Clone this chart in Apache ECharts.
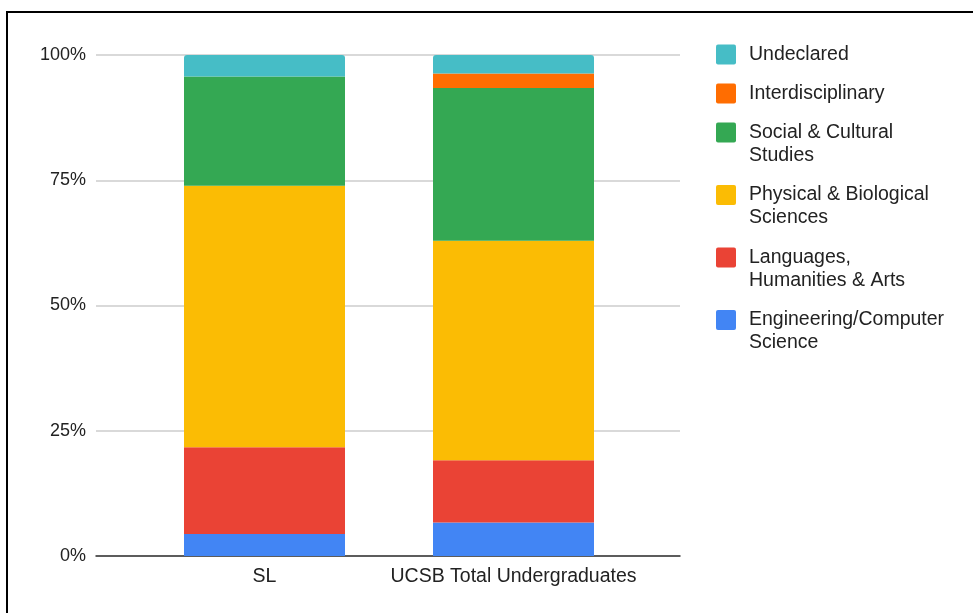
<!DOCTYPE html>
<html>
<head>
<meta charset="utf-8">
<script src="https://cdn.jsdelivr.net/npm/echarts@6/dist/echarts.min.js"></script>
<style>
  html, body { margin: 0; padding: 0; background: #fff; overflow: hidden; }
  #main { width: 973px; height: 613px; }
  #frame {
    position: absolute; left: 6px; top: 11px; width: 1000px; height: 700px;
    border-left: 2px solid #000; border-top: 2px solid #000; pointer-events: none;
  }
</style>
</head>
<body>
<div id="main"></div>
<div id="frame"></div>
<script>
// groups on the x axis
const categories = ['SL', 'UCSB Total Undergraduates'];

// share of each major group, in percent (bottom of the stack first)
const engineering = [4.4, 6.7];
const languages = [17.3, 12.4];
const physical = [52.2, 43.8];
const social = [21.8, 30.5];
const interdisciplinary = [0, 2.9];
const undeclared = [4.3, 3.7];

const yTicks = [0, 25, 50, 75, 100];

const font = 'Liberation Sans, Arial, sans-serif';

var chartDom = document.getElementById('main');
var myChart = echarts.init(chartDom);

// square with small round corners; the tall one keeps the square next to the first text line
const square = 'path://M2,0h16q2,0 2,2v16q0,2 -2,2h-16q-2,0 -2,-2v-16q0,-2 2,-2z';
const tallSquare = square + 'M20,43l0,0';

const legendText = { color: '#222', fontSize: 19.5, lineHeight: 23, fontFamily: font, padding: [0, 0, 0, 8] };

const makeBar = (name, data, color, extra) => {
  return Object.assign({
    name: name,
    type: 'bar',
    stack: 'total',
    xAxisIndex: 1,
    yAxisIndex: 1,
    barWidth: 161,
    data: data,
    itemStyle: { color: color },
    emphasis: { disabled: true }
  }, extra || {});
};

var option = {
  animation: false,
  textStyle: { fontFamily: font },
  grid: [
    { left: 96, right: 293, top: 55, bottom: 57 },
    { left: 140, right: 335, top: 55, bottom: 57 }
  ],
  xAxis: [
    {
      type: 'category', gridIndex: 0, data: categories,
      axisLine: { lineStyle: { color: '#333', width: 1.5 } },
      axisTick: { show: false }, axisLabel: { show: false }
    },
    {
      type: 'category', gridIndex: 1, data: categories,
      axisLine: { show: false }, axisTick: { show: false },
      axisLabel: { color: '#222', fontSize: 19.5, margin: 11, interval: 0, fontFamily: font }
    }
  ],
  yAxis: [
    {
      type: 'value', gridIndex: 0, min: yTicks[0], max: yTicks[yTicks.length - 1], interval: 25,
      axisLine: { show: false }, axisTick: { show: false },
      axisLabel: { color: '#222', fontSize: 18, margin: 10, fontFamily: font, formatter: '{value}%' },
      splitLine: { lineStyle: { color: '#ccc', width: 1.5 } }
    },
    {
      type: 'value', gridIndex: 1, min: 0, max: 100, show: false
    }
  ],
  legend: [
    {
      orient: 'vertical',
      left: 716,
      top: 43,
      padding: 0,
      itemWidth: 20,
      itemHeight: 20,
      itemGap: 16,
      icon: square,
      selectedMode: false,
      textStyle: legendText,
      data: ['Undeclared', 'Interdisciplinary']
    },
    {
      orient: 'vertical',
      left: 716,
      top: 121,
      padding: 0,
      itemWidth: 20,
      itemHeight: 43,
      itemGap: 16.5,
      icon: tallSquare,
      selectedMode: false,
      textStyle: legendText,
      data: [
        'Social & Cultural\nStudies',
        'Physical & Biological\nSciences',
        'Languages,\nHumanities & Arts',
        'Engineering/Computer\nScience'
      ]
    }
  ],
  series: [
    makeBar('Engineering/Computer\nScience', engineering, '#4285F4'),
    makeBar('Languages,\nHumanities & Arts', languages, '#EA4335'),
    makeBar('Physical & Biological\nSciences', physical, '#FBBC04'),
    makeBar('Social & Cultural\nStudies', social, '#34A853'),
    makeBar('Interdisciplinary', interdisciplinary, '#FF6D01'),
    makeBar('Undeclared', undeclared, '#46BDC6', { itemStyle: { color: '#46BDC6', borderRadius: [3, 3, 0, 0] } })
  ]
};

myChart.setOption(option);
</script>
</body>
</html>
